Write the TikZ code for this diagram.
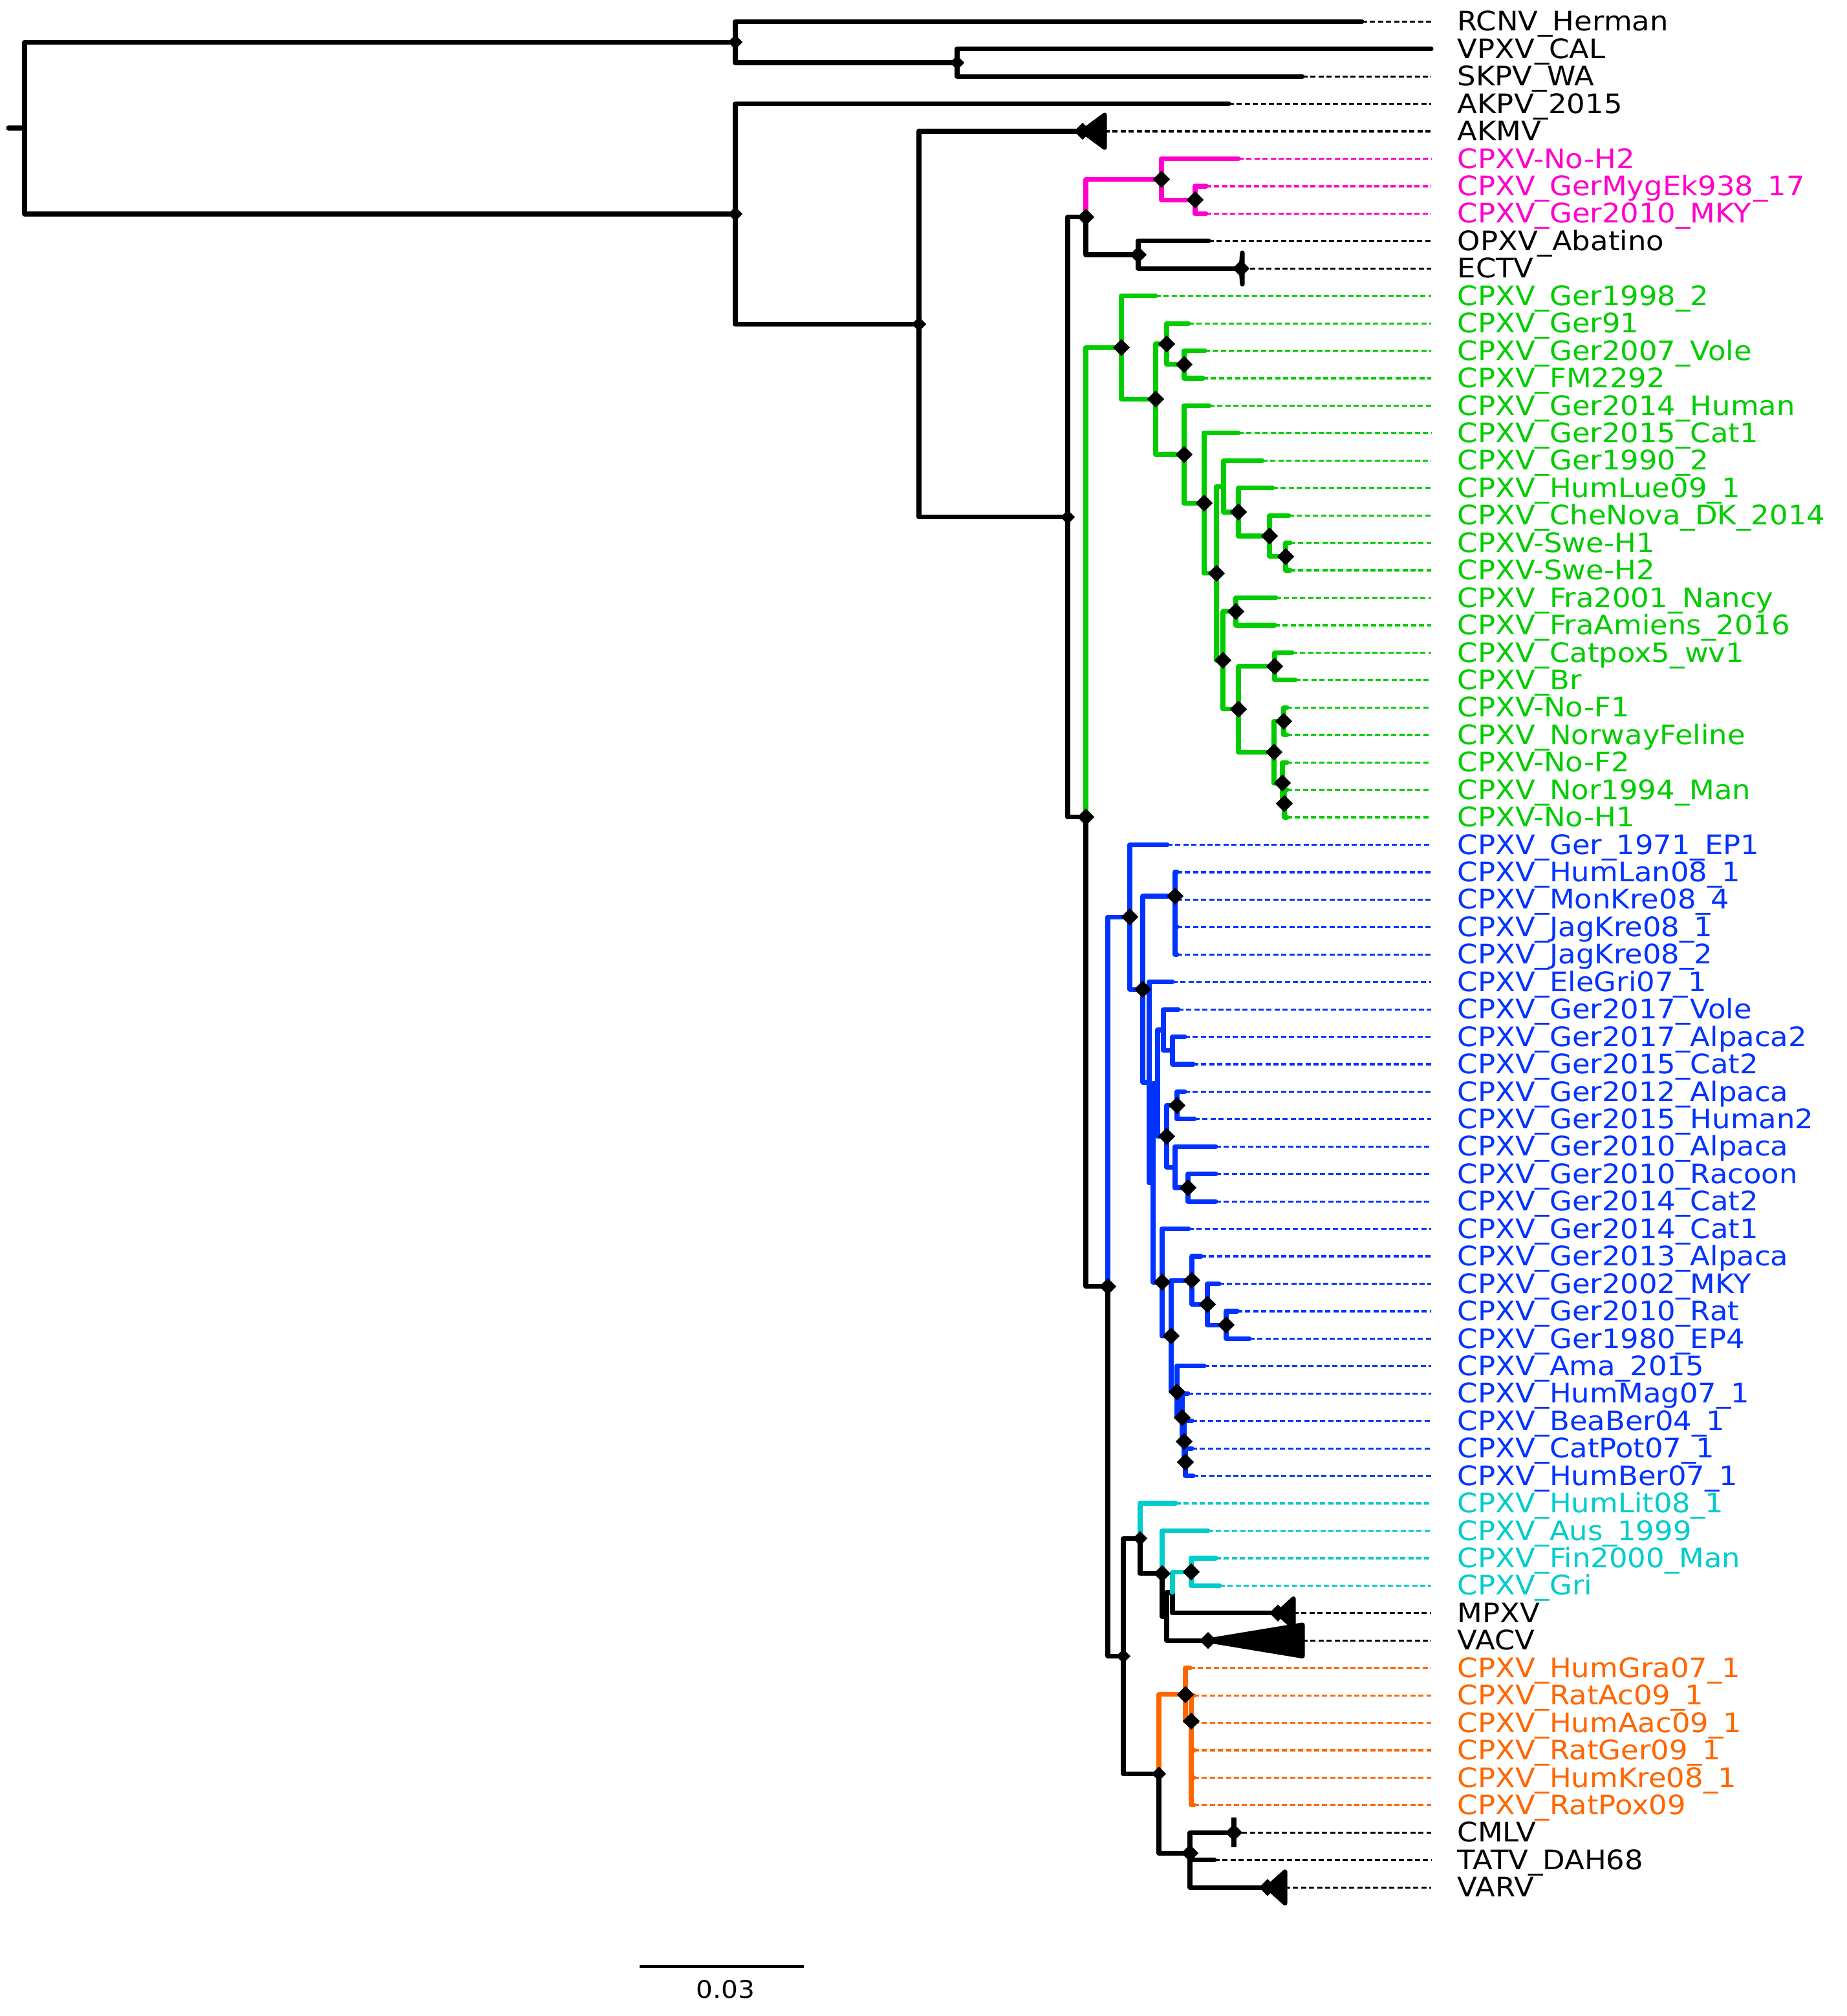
\documentclass[tikz,border=0pt]{standalone}
\usepackage{fontspec}
\setmainfont{DejaVu Sans}[FakeStretch=1.08]
\usetikzlibrary{positioning,shapes.geometric}
\definecolor{pinkc}{RGB}{255,0,204}
\definecolor{greenc}{RGB}{0,204,0}
\definecolor{bluec}{RGB}{0,51,255}
\definecolor{cyanc}{RGB}{0,204,204}
\definecolor{orangec}{RGB}{255,102,0}

\begin{document}
\begin{tikzpicture}[x=0.25pt,y=-10.61pt]
\tikzstyle{br}=[line width=1.8pt,line cap=round,line join=round]
\tikzstyle{lead}=[line width=0.8pt,dash pattern=on 2pt off 1.1pt]
\tikzstyle{supp}=[diamond,fill=black,inner sep=0pt,minimum width=6.75pt,minimum height=6.75pt]
\tikzstyle{ssupp}=[supp,minimum width=5.75pt,minimum height=5.75pt]
\tikzstyle{clps}=[fill=black,draw=black,line width=1.8pt,line join=round]
\tikzstyle{tip}=[anchor=west,inner xsep=10pt,inner ysep=0pt,text height=.73em,text depth=0pt,font=\fontsize{10.4}{12}\selectfont]

\useasboundingbox (0,0.2154) rectangle (2856,73.685);

%inner nodes of the tree
\coordinate (stub) at (13,4.88);
\coordinate (root) at (38,4.88);
\coordinate (n1) at (1137,1.75);
\coordinate (nVS) at (1480,2.5);
\coordinate (n2) at (1137,8.015);
\coordinate (n3) at (1421,12.03);
\coordinate (nA) at (1651,19.06);
\coordinate (nPO) at (1679,8.125);
\coordinate (nPk) at (1796,6.75);
\coordinate (nPk2) at (1848,7.5);
\coordinate (nOE) at (1760,9.5);
\coordinate (nB) at (1679,29.99);
%green
\coordinate (g0) at (1734,12.88);
\coordinate (g2) at (1787,14.76);
\coordinate (g3) at (1804,12.75);
\coordinate (g3b) at (1831,13.5);
\coordinate (g4) at (1831,16.78);
\coordinate (g5) at (1862,18.55);
\coordinate (g6) at (1881,21.11);
\coordinate (g7) at (1892,17.94);
\coordinate (g8) at (1915,18.875);
\coordinate (g8b) at (1963,19.75);
\coordinate (g8c) at (1988,20.5);
\coordinate (g9) at (1891,24.28);
\coordinate (g10) at (1911,22.5);
\coordinate (g11) at (1915,26.06);
\coordinate (g12) at (1971,24.5);
\coordinate (g13) at (1970,27.625);
\coordinate (g14) at (1985,26.5);
\coordinate (g15) at (1983,28.75);
\coordinate (g16) at (1986,29.5);
%blue
\coordinate (nC) at (1713,47.1);
\coordinate (b1) at (1747,33.63);
\coordinate (b2) at (1767,36.27);
\coordinate (b3) at (1817,32.875);
\coordinate (b4) at (1777,39.66);
\coordinate (bv) at (1783,43.32);
\coordinate (bp) at (1790,39.69);
\coordinate (s1) at (1799,37.75);
\coordinate (s1b) at (1813,38.5);
\coordinate (s2) at (1804,41.625);
\coordinate (s3) at (1820,40.5);
\coordinate (s4) at (1817,42.75);
\coordinate (s4b) at (1837,43.5);
\coordinate (bq) at (1797,46.94);
\coordinate (rr) at (1811,48.9);
\coordinate (w1) at (1843,46.875);
\coordinate (w2) at (1867,47.75);
\coordinate (w3) at (1896,48.5);
\coordinate (u1) at (1820,50.94);
\coordinate (u2) at (1828,51.875);
\coordinate (u3) at (1831,52.75);
\coordinate (u4) at (1833,53.5);
%bottom part
\coordinate (nD) at (1737,60.57);
\coordinate (nE) at (1763,56.28);
\coordinate (nF) at (1797,57.56);
\coordinate (nG) at (1804,59.125);
\coordinate (nH) at (1813,58.25);
\coordinate (nI) at (1842,57.5);
\coordinate (nJ) at (1792,64.86);
\coordinate (nK) at (1833,61.97);
\coordinate (nK2) at (1842,62.94);
\coordinate (nL) at (1840,67.75);

%leaf tips
\coordinate (t1) at (2106,1);
\coordinate (t2) at (2213,2);
\coordinate (t3) at (2014,3);
\coordinate (t4) at (1900,4);
\coordinate (t5) at (1674,5);
\coordinate (t6) at (1915,6);
\coordinate (t7) at (1865,7);
\coordinate (t8) at (1865,8);
\coordinate (t9) at (1869,9);
\coordinate (t10) at (1919,10);
\coordinate (t11) at (1787,11);
\coordinate (t12) at (1838,12);
\coordinate (t13) at (1863,13);
\coordinate (t14) at (1860,14);
\coordinate (t15) at (1870,15);
\coordinate (t16) at (1915,16);
\coordinate (t17) at (1952,17);
\coordinate (t18) at (1968,18);
\coordinate (t19) at (1993,19);
\coordinate (t20) at (1995,20);
\coordinate (t21) at (1995,21);
\coordinate (t22) at (1973,22);
\coordinate (t23) at (1971,23);
\coordinate (t24) at (1998,24);
\coordinate (t25) at (2003,25);
\coordinate (t26) at (1990,26);
\coordinate (t27) at (1990,27);
\coordinate (t28) at (1990,28);
\coordinate (t29) at (1990,29);
\coordinate (t30) at (1990,30);
\coordinate (t31) at (1805,31);
\coordinate (t32) at (1820,32);
\coordinate (t33) at (1820,33);
\coordinate (t34) at (1820,34);
\coordinate (t35) at (1820,35);
\coordinate (t36) at (1813,36);
\coordinate (t37) at (1822,37);
\coordinate (t38) at (1832,38);
\coordinate (t39) at (1845,39);
\coordinate (t40) at (1832,40);
\coordinate (t41) at (1847,41);
\coordinate (t42) at (1880,42);
\coordinate (t43) at (1880,43);
\coordinate (t44) at (1880,44);
\coordinate (t45) at (1838,45);
\coordinate (t46) at (1857,46);
\coordinate (t47) at (1885,47);
\coordinate (t48) at (1913,48);
\coordinate (t49) at (1932,49);
\coordinate (t50) at (1862,50);
\coordinate (t51) at (1837,51);
\coordinate (t52) at (1843,52);
\coordinate (t53) at (1843,53);
\coordinate (t54) at (1845,54);
\coordinate (t55) at (1818,55);
\coordinate (t56) at (1868,56);
\coordinate (t57) at (1880,57);
\coordinate (t58) at (1886,58);
\coordinate (t59) at (1976,59);
\coordinate (t60) at (1868,60);
\coordinate (t61) at (1840,61);
\coordinate (t62) at (1846,62);
\coordinate (t63) at (1846,63);
\coordinate (t64) at (1846,64);
\coordinate (t65) at (1846,65);
\coordinate (t66) at (1846,66);
\coordinate (t67) at (1908,67);
\coordinate (t68) at (1878,68);
\coordinate (t69) at (1960,69);
%ends of collapsed clades
\coordinate (e5) at (1708,5);
\coordinate (e10) at (1921,10);
\coordinate (e59) at (2000,59);
\coordinate (e60) at (2014,60);
\coordinate (e67) at (1908,67);
\coordinate (e69) at (1987,69);

%labels
\node[tip] (l1) at (2213,1) {RCNV\_Herman};
\node[tip] (l2) at (2213,2) {VPXV\_CAL};
\node[tip] (l3) at (2213,3) {SKPV\_WA};
\node[tip] (l4) at (2213,4) {AKPV\_2015};
\node[tip] (l5) at (2213,5) {AKMV};
\node[tip,text=pinkc] (l6) at (2213,6) {CPXV-No-H2};
\node[tip,text=pinkc] (l7) at (2213,7) {CPXV\_GerMygEk938\_17};
\node[tip,text=pinkc] (l8) at (2213,8) {CPXV\_Ger2010\_MKY};
\node[tip] (l9) at (2213,9) {OPXV\_Abatino};
\node[tip] (l10) at (2213,10) {ECTV};
\node[tip,text=greenc] (l11) at (2213,11) {CPXV\_Ger1998\_2};
\node[tip,text=greenc] (l12) at (2213,12) {CPXV\_Ger91};
\node[tip,text=greenc] (l13) at (2213,13) {CPXV\_Ger2007\_Vole};
\node[tip,text=greenc] (l14) at (2213,14) {CPXV\_FM2292};
\node[tip,text=greenc] (l15) at (2213,15) {CPXV\_Ger2014\_Human};
\node[tip,text=greenc] (l16) at (2213,16) {CPXV\_Ger2015\_Cat1};
\node[tip,text=greenc] (l17) at (2213,17) {CPXV\_Ger1990\_2};
\node[tip,text=greenc] (l18) at (2213,18) {CPXV\_HumLue09\_1};
\node[tip,text=greenc] (l19) at (2213,19) {CPXV\_CheNova\_DK\_2014};
\node[tip,text=greenc] (l20) at (2213,20) {CPXV-Swe-H1};
\node[tip,text=greenc] (l21) at (2213,21) {CPXV-Swe-H2};
\node[tip,text=greenc] (l22) at (2213,22) {CPXV\_Fra2001\_Nancy};
\node[tip,text=greenc] (l23) at (2213,23) {CPXV\_FraAmiens\_2016};
\node[tip,text=greenc] (l24) at (2213,24) {CPXV\_Catpox5\_wv1};
\node[tip,text=greenc] (l25) at (2213,25) {CPXV\_Br};
\node[tip,text=greenc] (l26) at (2213,26) {CPXV-No-F1};
\node[tip,text=greenc] (l27) at (2213,27) {CPXV\_NorwayFeline};
\node[tip,text=greenc] (l28) at (2213,28) {CPXV-No-F2};
\node[tip,text=greenc] (l29) at (2213,29) {CPXV\_Nor1994\_Man};
\node[tip,text=greenc] (l30) at (2213,30) {CPXV-No-H1};
\node[tip,text=bluec] (l31) at (2213,31) {CPXV\_Ger\_1971\_EP1};
\node[tip,text=bluec] (l32) at (2213,32) {CPXV\_HumLan08\_1};
\node[tip,text=bluec] (l33) at (2213,33) {CPXV\_MonKre08\_4};
\node[tip,text=bluec] (l34) at (2213,34) {CPXV\_JagKre08\_1};
\node[tip,text=bluec] (l35) at (2213,35) {CPXV\_JagKre08\_2};
\node[tip,text=bluec] (l36) at (2213,36) {CPXV\_EleGri07\_1};
\node[tip,text=bluec] (l37) at (2213,37) {CPXV\_Ger2017\_Vole};
\node[tip,text=bluec] (l38) at (2213,38) {CPXV\_Ger2017\_Alpaca2};
\node[tip,text=bluec] (l39) at (2213,39) {CPXV\_Ger2015\_Cat2};
\node[tip,text=bluec] (l40) at (2213,40) {CPXV\_Ger2012\_Alpaca};
\node[tip,text=bluec] (l41) at (2213,41) {CPXV\_Ger2015\_Human2};
\node[tip,text=bluec] (l42) at (2213,42) {CPXV\_Ger2010\_Alpaca};
\node[tip,text=bluec] (l43) at (2213,43) {CPXV\_Ger2010\_Racoon};
\node[tip,text=bluec] (l44) at (2213,44) {CPXV\_Ger2014\_Cat2};
\node[tip,text=bluec] (l45) at (2213,45) {CPXV\_Ger2014\_Cat1};
\node[tip,text=bluec] (l46) at (2213,46) {CPXV\_Ger2013\_Alpaca};
\node[tip,text=bluec] (l47) at (2213,47) {CPXV\_Ger2002\_MKY};
\node[tip,text=bluec] (l48) at (2213,48) {CPXV\_Ger2010\_Rat};
\node[tip,text=bluec] (l49) at (2213,49) {CPXV\_Ger1980\_EP4};
\node[tip,text=bluec] (l50) at (2213,50) {CPXV\_Ama\_2015};
\node[tip,text=bluec] (l51) at (2213,51) {CPXV\_HumMag07\_1};
\node[tip,text=bluec] (l52) at (2213,52) {CPXV\_BeaBer04\_1};
\node[tip,text=bluec] (l53) at (2213,53) {CPXV\_CatPot07\_1};
\node[tip,text=bluec] (l54) at (2213,54) {CPXV\_HumBer07\_1};
\node[tip,text=cyanc] (l55) at (2213,55) {CPXV\_HumLit08\_1};
\node[tip,text=cyanc] (l56) at (2213,56) {CPXV\_Aus\_1999};
\node[tip,text=cyanc] (l57) at (2213,57) {CPXV\_Fin2000\_Man};
\node[tip,text=cyanc] (l58) at (2213,58) {CPXV\_Gri};
\node[tip] (l59) at (2213,59) {MPXV};
\node[tip] (l60) at (2213,60) {VACV};
\node[tip,text=orangec] (l61) at (2213,61) {CPXV\_HumGra07\_1};
\node[tip,text=orangec] (l62) at (2213,62) {CPXV\_RatAc09\_1};
\node[tip,text=orangec] (l63) at (2213,63) {CPXV\_HumAac09\_1};
\node[tip,text=orangec] (l64) at (2213,64) {CPXV\_RatGer09\_1};
\node[tip,text=orangec] (l65) at (2213,65) {CPXV\_HumKre08\_1};
\node[tip,text=orangec] (l66) at (2213,66) {CPXV\_RatPox09};
\node[tip] (l67) at (2213,67) {CMLV};
\node[tip] (l68) at (2213,68) {TATV\_DAH68};
\node[tip] (l69) at (2213,69) {VARV};

%dashed leads to the labels
\draw[lead] (t1) -- (l1.west);
\draw[lead] (t3) -- (l3.west);
\draw[lead] (t4) -- (l4.west);
\draw[lead] (e5) -- (l5.west);
\draw[lead,pinkc] (t6) -- (l6.west);
\draw[lead,pinkc] (t7) -- (l7.west);
\draw[lead,pinkc] (t8) -- (l8.west);
\draw[lead] (t9) -- (l9.west);
\draw[lead] (e10) -- (l10.west);
\draw[lead,greenc] (t11) -- (l11.west);
\draw[lead,greenc] (t12) -- (l12.west);
\draw[lead,greenc] (t13) -- (l13.west);
\draw[lead,greenc] (t14) -- (l14.west);
\draw[lead,greenc] (t15) -- (l15.west);
\draw[lead,greenc] (t16) -- (l16.west);
\draw[lead,greenc] (t17) -- (l17.west);
\draw[lead,greenc] (t18) -- (l18.west);
\draw[lead,greenc] (t19) -- (l19.west);
\draw[lead,greenc] (t20) -- (l20.west);
\draw[lead,greenc] (t21) -- (l21.west);
\draw[lead,greenc] (t22) -- (l22.west);
\draw[lead,greenc] (t23) -- (l23.west);
\draw[lead,greenc] (t24) -- (l24.west);
\draw[lead,greenc] (t25) -- (l25.west);
\draw[lead,greenc] (t26) -- (l26.west);
\draw[lead,greenc] (t27) -- (l27.west);
\draw[lead,greenc] (t28) -- (l28.west);
\draw[lead,greenc] (t29) -- (l29.west);
\draw[lead,greenc] (t30) -- (l30.west);
\draw[lead,bluec] (t31) -- (l31.west);
\draw[lead,bluec] (t32) -- (l32.west);
\draw[lead,bluec] (t33) -- (l33.west);
\draw[lead,bluec] (t34) -- (l34.west);
\draw[lead,bluec] (t35) -- (l35.west);
\draw[lead,bluec] (t36) -- (l36.west);
\draw[lead,bluec] (t37) -- (l37.west);
\draw[lead,bluec] (t38) -- (l38.west);
\draw[lead,bluec] (t39) -- (l39.west);
\draw[lead,bluec] (t40) -- (l40.west);
\draw[lead,bluec] (t41) -- (l41.west);
\draw[lead,bluec] (t42) -- (l42.west);
\draw[lead,bluec] (t43) -- (l43.west);
\draw[lead,bluec] (t44) -- (l44.west);
\draw[lead,bluec] (t45) -- (l45.west);
\draw[lead,bluec] (t46) -- (l46.west);
\draw[lead,bluec] (t47) -- (l47.west);
\draw[lead,bluec] (t48) -- (l48.west);
\draw[lead,bluec] (t49) -- (l49.west);
\draw[lead,bluec] (t50) -- (l50.west);
\draw[lead,bluec] (t51) -- (l51.west);
\draw[lead,bluec] (t52) -- (l52.west);
\draw[lead,bluec] (t53) -- (l53.west);
\draw[lead,bluec] (t54) -- (l54.west);
\draw[lead,cyanc] (t55) -- (l55.west);
\draw[lead,cyanc] (t56) -- (l56.west);
\draw[lead,cyanc] (t57) -- (l57.west);
\draw[lead,cyanc] (t58) -- (l58.west);
\draw[lead] (e59) -- (l59.west);
\draw[lead] (e60) -- (l60.west);
\draw[lead,orangec] (t61) -- (l61.west);
\draw[lead,orangec] (t62) -- (l62.west);
\draw[lead,orangec] (t63) -- (l63.west);
\draw[lead,orangec] (t64) -- (l64.west);
\draw[lead,orangec] (t65) -- (l65.west);
\draw[lead,orangec] (t66) -- (l66.west);
\draw[lead] (e67) -- (l67.west);
\draw[lead] (t68) -- (l68.west);
\draw[lead] (e69) -- (l69.west);

%black backbone
\draw[br] (stub) -- (root);
\draw[br] (root) |- (n1); \draw[br] (root) |- (n2);
\draw[br] (n1) |- (t1); \draw[br] (n1) |- (nVS);
\draw[br] (nVS) |- (t2); \draw[br] (nVS) |- (t3);
\draw[br] (n2) |- (t4); \draw[br] (n2) |- (n3);
\draw[br] (n3) |- (t5); \draw[br] (n3) |- (nA);
\draw[br] (nA) |- (nPO); \draw[br] (nA) |- (nB);
\draw[br] (nPO) |- (nOE);
\draw[br] (nOE) |- (t9); \draw[br] (nOE) |- (t10);
\draw[br] (nB) |- (nC);
\draw[br] (nC) |- (nD);
\draw[br] (nD) |- (nE); \draw[br] (nD) |- (nJ);
\draw[br] (nE) |- (nF); \draw[br] (nF) |- (nG);
\draw[br] (nG) |- (nH); \draw[br] (nG) |- (t60);
\draw[br] (nH) |- (t59);
\draw[br] (nJ) |- (nL);
\draw[br] (nL) |- (t67); \draw[br] (nL) |- (t68); \draw[br] (nL) |- (t69);

%pink clade
\draw[br,pinkc] (nPO) |- (nPk);
\draw[br,pinkc] (nPk) |- (t6); \draw[br,pinkc] (nPk) |- (nPk2);
\draw[br,pinkc] (nPk2) |- (t7); \draw[br,pinkc] (nPk2) |- (t8);

%green clade
\draw[br,greenc] (nB) |- (g0);
\draw[br,greenc] (g0) |- (t11); \draw[br,greenc] (g0) |- (g2);
\draw[br,greenc] (g2) |- (g3); \draw[br,greenc] (g2) |- (g4);
\draw[br,greenc] (g3) |- (t12); \draw[br,greenc] (g3) |- (g3b);
\draw[br,greenc] (g3b) |- (t13); \draw[br,greenc] (g3b) |- (t14);
\draw[br,greenc] (g4) |- (t15); \draw[br,greenc] (g4) |- (g5);
\draw[br,greenc] (g5) |- (t16); \draw[br,greenc] (g5) |- (g6);
\draw[br,greenc] (g6) |- (g7); \draw[br,greenc] (g6) |- (g9);
\draw[br,greenc] (g7) |- (t17); \draw[br,greenc] (g7) |- (g8);
\draw[br,greenc] (g8) |- (t18); \draw[br,greenc] (g8) |- (g8b);
\draw[br,greenc] (g8b) |- (t19); \draw[br,greenc] (g8b) |- (g8c);
\draw[br,greenc] (g8c) |- (t20); \draw[br,greenc] (g8c) |- (t21);
\draw[br,greenc] (g9) |- (g10); \draw[br,greenc] (g9) |- (g11);
\draw[br,greenc] (g10) |- (t22); \draw[br,greenc] (g10) |- (t23);
\draw[br,greenc] (g11) |- (g12); \draw[br,greenc] (g11) |- (g13);
\draw[br,greenc] (g12) |- (t24); \draw[br,greenc] (g12) |- (t25);
\draw[br,greenc] (g13) |- (g14); \draw[br,greenc] (g13) |- (g15);
\draw[br,greenc] (g14) |- (t26); \draw[br,greenc] (g14) |- (t27);
\draw[br,greenc] (g15) |- (t28); \draw[br,greenc] (g15) |- (g16);
\draw[br,greenc] (g16) |- (t29); \draw[br,greenc] (g16) |- (t30);

%blue clade
\draw[br,bluec] (nC) |- (b1);
\draw[br,bluec] (b1) |- (t31); \draw[br,bluec] (b1) |- (b2);
\draw[br,bluec] (b2) |- (b3); \draw[br,bluec] (b2) |- (b4);
\draw[br,bluec] (b3) |- (t32); \draw[br,bluec] (b3) |- (t33);
\draw[br,bluec] (b3) |- (t34); \draw[br,bluec] (b3) |- (t35);
\draw[br,bluec] (b4) |- (t36); \draw[br,bluec] (b4) |- (bv);
\draw[br,bluec] (bv) |- (bp); \draw[br,bluec] (bv) |- (bq);
\draw[br,bluec] (bp) |- (s1); \draw[br,bluec] (bp) |- (s2);
\draw[br,bluec] (s1) |- (t37); \draw[br,bluec] (s1) |- (s1b);
\draw[br,bluec] (s1b) |- (t38); \draw[br,bluec] (s1b) |- (t39);
\draw[br,bluec] (s2) |- (s3); \draw[br,bluec] (s2) |- (s4);
\draw[br,bluec] (s3) |- (t40); \draw[br,bluec] (s3) |- (t41);
\draw[br,bluec] (s4) |- (t42); \draw[br,bluec] (s4) |- (s4b);
\draw[br,bluec] (s4b) |- (t43); \draw[br,bluec] (s4b) |- (t44);
\draw[br,bluec] (bq) |- (t45); \draw[br,bluec] (bq) |- (rr);
\draw[br,bluec] (rr) |- (w1); \draw[br,bluec] (rr) |- (u1);
\draw[br,bluec] (w1) |- (t46); \draw[br,bluec] (w1) |- (w2);
\draw[br,bluec] (w2) |- (t47); \draw[br,bluec] (w2) |- (w3);
\draw[br,bluec] (w3) |- (t48); \draw[br,bluec] (w3) |- (t49);
\draw[br,bluec] (u1) |- (t50); \draw[br,bluec] (u1) |- (u2);
\draw[br,bluec] (u2) |- (t51); \draw[br,bluec] (u2) |- (u3);
\draw[br,bluec] (u3) |- (t52); \draw[br,bluec] (u3) |- (u4);
\draw[br,bluec] (u4) |- (t53); \draw[br,bluec] (u4) |- (t54);

%cyan clade
\draw[br,cyanc] (nE) |- (t55);
\draw[br,cyanc] (nF) |- (t56);
\draw[br,cyanc] (nH) |- (nI);
\draw[br,cyanc] (nI) |- (t57); \draw[br,cyanc] (nI) |- (t58);

%orange clade
\draw[br,orangec] (nJ) |- (nK);
\draw[br,orangec] (nK) |- (t61); \draw[br,orangec] (nK) |- (nK2);
\draw[br,orangec] (nK2) |- (t62); \draw[br,orangec] (nK2) |- (t63);
\draw[br,orangec] (nK2) |- (t64); \draw[br,orangec] (nK2) |- (t65);
\draw[br,orangec] (nK2) |- (t66);

%collapsed clades
\draw[clps] (t5) -- ++(34,-0.59) -- ++(0,1.18) -- cycle;
\draw[clps] (t10) -- ++(2,-0.57) -- ++(0,1.14) -- cycle;
\draw[clps] (t59) -- ++(24,-0.52) -- ++(0,1.04) -- cycle;
\draw[clps] (t60) -- ++(146,-0.57) -- ++(0,1.14) -- cycle;
\draw[clps] (t67) ++(0,-0.54) -- ++(0,1.08);
\draw[clps] (t69) -- ++(27,-0.57) -- ++(0,1.14) -- cycle;

%support diamonds
\node[ssupp] (dn1) at (n1) {};
\node[ssupp] (dn2) at (n2) {};
\node[ssupp] (dnVS) at (nVS) {};
\node[ssupp] (dn3) at (n3) {};
\node[ssupp] (dnA) at (nA) {};
\node[supp] (dnPO) at (nPO) {};
\node[supp] (dnPk) at (nPk) {};
\node[supp] (dnPk2) at (nPk2) {};
\node[supp] (dnOE) at (nOE) {};
\node[supp] (dt5) at (t5) {};
\node[supp] (dt10) at (t10) {};
\node[supp] (dnB) at (nB) {};
\node[supp] (dg0) at (g0) {};
\node[supp] (dg2) at (g2) {};
\node[supp] (dg3) at (g3) {};
\node[supp] (dg3b) at (g3b) {};
\node[supp] (dg4) at (g4) {};
\node[supp] (dg5) at (g5) {};
\node[supp] (dg6) at (g6) {};
\node[supp] (dg8) at (g8) {};
\node[supp] (dg8b) at (g8b) {};
\node[supp] (dg8c) at (g8c) {};
\node[supp] (dg9) at (g9) {};
\node[supp] (dg10) at (g10) {};
\node[supp] (dg11) at (g11) {};
\node[supp] (dg12) at (g12) {};
\node[supp] (dg13) at (g13) {};
\node[supp] (dg14) at (g14) {};
\node[supp] (dg15) at (g15) {};
\node[supp] (dg16) at (g16) {};
\node[supp] (dnC) at (nC) {};
\node[supp] (db1) at (b1) {};
\node[supp] (db2) at (b2) {};
\node[supp] (db3) at (b3) {};
\node[supp] (ds2) at (s2) {};
\node[supp] (ds3) at (s3) {};
\node[supp] (ds4b) at (s4b) {};
\node[supp] (dbq) at (bq) {};
\node[supp] (drr) at (rr) {};
\node[supp] (dw1) at (w1) {};
\node[supp] (dw2) at (w2) {};
\node[supp] (dw3) at (w3) {};
\node[supp] (du1) at (u1) {};
\node[supp] (du2) at (u2) {};
\node[supp] (du3) at (u3) {};
\node[supp] (du4) at (u4) {};
\node[ssupp] (dnD) at (nD) {};
\node[ssupp] (dnE) at (nE) {};
\node[supp] (dnF) at (nF) {};
\node[supp] (dnI) at (nI) {};
\node[supp] (dt59) at (t59) {};
\node[supp] (dt60) at (t60) {};
\node[ssupp] (dnJ) at (nJ) {};
\node[supp] (dnK) at (nK) {};
\node[supp] (dnK2) at (nK2) {};
\node[supp] (dnL) at (nL) {};
\node[supp] (dt67) at (t67) {};
\node[supp] (dt69) at (t69) {};

%scale bar
\coordinate (sb0) at (989,71.87);
\coordinate (sb1) at (1243,71.87);
\draw[line width=1.25pt] (sb0) -- (sb1);
\node[font=\fontsize{9.4}{11}\selectfont] (sbl) at (1122,72.72) {0.03};
\end{tikzpicture}
\end{document}
